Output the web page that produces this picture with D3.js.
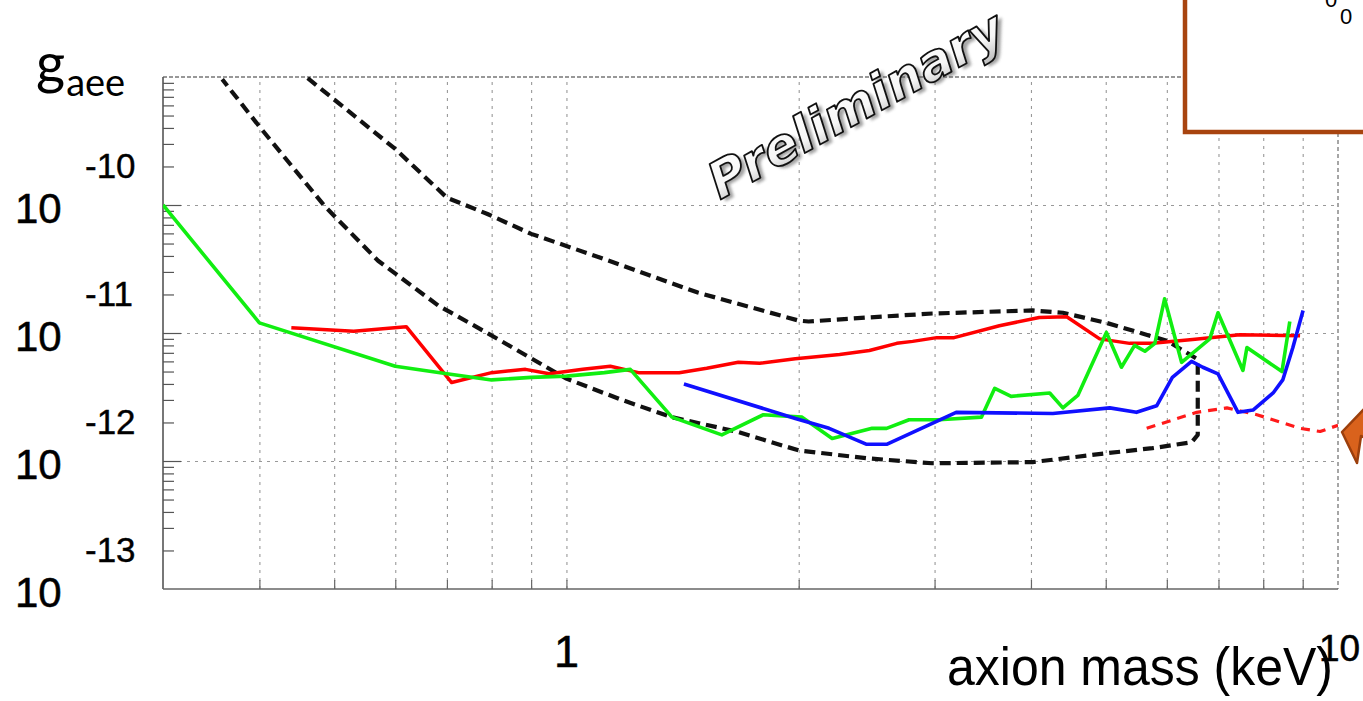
<!DOCTYPE html>
<html>
<head>
<meta charset="utf-8">
<script src="https://cdnjs.cloudflare.com/ajax/libs/d3/7.8.5/d3.min.js"></script>
<style>
  body { margin: 0; background: #fff; }
  svg { display: block; }
</style>
</head>
<body>
<div id="chart"></div>
<script>
// axion mass (keV) and coupling limit g_aee for each curve
var greenMass = [0.30, 0.40, 0.60, 0.70, 0.80, 0.90, 1.0, 1.12, 1.21, 1.37, 1.59, 1.80, 2.02, 2.21, 2.49, 2.60, 2.78, 3.04, 3.45, 3.59,
  3.77, 4.23, 4.40, 4.60, 5.01, 5.24, 5.45, 5.62, 5.79, 5.96, 6.27, 6.82, 6.99, 7.53, 7.62, 8.46, 8.66];
var greenLimit = [1.0e-10, 1.2e-11, 5.5e-12, 4.8e-12, 4.3e-12, 4.5e-12, 4.6e-12, 4.9e-12, 5.2e-12, 2.2e-12, 1.6e-12, 2.3e-12, 2.2e-12, 1.5e-12, 1.8e-12, 1.8e-12, 2.1e-12, 2.1e-12, 2.2e-12, 3.7e-12,
  3.2e-12, 3.4e-12, 2.6e-12, 3.25e-12, 1.01e-11, 5.4e-12, 8.0e-12, 7.2e-12, 8.3e-12, 1.85e-11, 5.9e-12, 9.0e-12, 1.44e-11, 5.1e-12, 7.7e-12, 5.0e-12, 1.23e-11];

var redMass = [0.44, 0.53, 0.62, 0.71, 0.80, 0.885, 0.95, 1.05, 1.14, 1.24, 1.40, 1.52, 1.67, 1.78, 1.98, 2.26, 2.47, 2.68, 2.81, 3.02,
  3.18, 3.64, 4.10, 4.45, 4.91, 5.37, 5.75, 6.48, 7.46, 8.93];
var redLimit = [1.1e-11, 1.03e-11, 1.12e-11, 4.1e-12, 4.9e-12, 5.2e-12, 4.8e-12, 5.2e-12, 5.5e-12, 4.9e-12, 4.9e-12, 5.3e-12, 5.9e-12, 5.8e-12, 6.3e-12, 6.8e-12, 7.3e-12, 8.3e-12, 8.6e-12, 9.2e-12,
  9.2e-12, 1.14e-11, 1.32e-11, 1.34e-11, 9.0e-12, 8.3e-12, 8.3e-12, 8.9e-12, 9.7e-12, 9.5e-12];

var blueMass = [1.42, 1.98, 2.19, 2.45, 2.60, 3.20, 4.27, 5.06, 5.48, 5.82, 6.10, 6.46, 6.68, 6.99, 7.42, 7.76, 8.24, 8.48, 8.74, 9.01];
var blueLimit = [4.0e-12, 2.15e-12, 1.8e-12, 1.35e-12, 1.35e-12, 2.4e-12, 2.35e-12, 2.6e-12, 2.4e-12, 2.7e-12, 4.5e-12, 6.0e-12, 5.4e-12, 4.8e-12, 2.4e-12, 2.5e-12, 3.4e-12, 4.3e-12, 7.7e-12, 1.5e-11];

var redDashMass = [5.65, 6.56, 7.18, 7.85, 8.93, 9.48, 10.0];
var redDashLimit = [1.8e-12, 2.4e-12, 2.6e-12, 2.3e-12, 1.8e-12, 1.7e-12, 1.9e-12];

// black dashed contour: upper branch left to right, then lower branch back
var blackMass = [0.462, 0.60, 0.70, 0.79, 0.90, 1.09, 1.48, 2.0, 2.06, 2.45, 2.98, 4.02, 4.40, 5.01, 6.0, 6.56, 6.58, 6.58,
  6.46, 5.75, 5.01, 4.02, 2.98, 2.45, 2.0, 1.66, 1.37, 1.18, 1.0, 0.792, 0.682, 0.570, 0.486, 0.40, 0.358];
var blackLimit = [9.8e-10, 2.74e-10, 1.14e-10, 8.5e-11, 5.95e-11, 4.0e-11, 2.07e-11, 1.25e-11, 1.23e-11, 1.32e-11, 1.42e-11, 1.5e-11, 1.44e-11, 1.2e-11, 8.7e-12, 6.3e-12, 5.8e-12, 1.6e-12,
  1.4e-12, 1.26e-12, 1.15e-12, 9.8e-13, 9.6e-13, 1.05e-12, 1.21e-12, 1.7e-12, 2.2e-12, 3.0e-12, 4.4e-12, 9.9e-12, 1.64e-11, 3.67e-11, 9.8e-11, 4.1e-10, 9.6e-10];

// ticks and labels
var xGrid = [0.4, 0.5, 0.6, 0.7, 0.8, 0.9, 1, 2, 3, 4, 5, 6, 7, 8, 9];
var xLabelValues = [1, 10];
var xLabels = ["1", "10"];
var yDecades = [1e-13, 1e-12, 1e-11, 1e-10, 1e-9];
var yLabelValues = [1e-10, 1e-11, 1e-12, 1e-13];
var yLabelExp = ["-10", "-11", "-12", "-13"];

var width = 1363, height = 701;
var margin = { top: 77, right: 25, bottom: 112, left: 163 };
var x0 = margin.left, x1 = width - margin.right;
var y0 = height - margin.bottom, y1 = margin.top;

var svg = d3.select("#chart").append("svg")
    .attr("width", width)
    .attr("height", height)
    .style("background", "#fff");

var x = d3.scaleLog().domain([0.3, 10]).range([x0, x1]);
var y = d3.scaleLog().domain([1e-13, 1e-9]).range([y0, y1]);

var defs = svg.append("defs");
defs.append("clipPath").attr("id", "plot")
  .append("rect").attr("x", x0).attr("y", y1).attr("width", x1 - x0).attr("height", y0 - y1);
var grad = defs.append("linearGradient").attr("id", "prelimFill")
    .attr("x1", 0).attr("y1", 0).attr("x2", 0).attr("y2", 1);
grad.append("stop").attr("offset", "0%").attr("stop-color", "#ffffff");
grad.append("stop").attr("offset", "60%").attr("stop-color", "#f6f6f6");
grad.append("stop").attr("offset", "100%").attr("stop-color", "#b8b8b8");
defs.append("filter").attr("id", "blur")
  .append("feGaussianBlur").attr("stdDeviation", 1.5);

// grid lines
var gridX = svg.append("g")
    .attr("transform", "translate(0," + y0 + ")")
    .call(d3.axisBottom(x).tickValues(xGrid).tickSize(-(y0 - y1)).tickFormat(""));
gridX.select(".domain").remove();
gridX.selectAll("line").attr("stroke", "#999").attr("stroke-width", 1.1).attr("stroke-dasharray", "3,5");

var gridY = svg.append("g")
    .attr("transform", "translate(" + x0 + ",0)")
    .call(d3.axisLeft(y).tickValues([1e-10, 1e-11, 1e-12]).tickSize(-(x1 - x0)).tickFormat(""));
gridY.select(".domain").remove();
gridY.selectAll("line").attr("stroke", "#999").attr("stroke-width", 1.1).attr("stroke-dasharray", "3,5");

// frame: top and right dashed, left and bottom solid
svg.append("line").attr("x1", x0).attr("x2", x1).attr("y1", y1).attr("y2", y1)
    .attr("stroke", "#777").attr("stroke-width", 1.3).attr("stroke-dasharray", "4,2");
svg.append("line").attr("x1", x1).attr("x2", x1).attr("y1", y1).attr("y2", y0)
    .attr("stroke", "#777").attr("stroke-width", 1.3).attr("stroke-dasharray", "4,3");
svg.append("line").attr("x1", x0).attr("x2", x0).attr("y1", y1).attr("y2", y0)
    .attr("stroke", "#555").attr("stroke-width", 1.6);
svg.append("line").attr("x1", x0).attr("x2", x1).attr("y1", y0).attr("y2", y0)
    .attr("stroke", "#666").attr("stroke-width", 1.5);

// y ticks (inward)
var yMinor = [];
for (var i = 0; i < yDecades.length - 1; i++) {
  for (var k = 2; k <= 9; k++) yMinor.push(yDecades[i] * k);
}
var yMinorAxis = svg.append("g").attr("transform", "translate(" + x0 + ",0)")
    .call(d3.axisLeft(y).tickValues(yMinor).tickSize(-11).tickFormat(""));
var yMajorAxis = svg.append("g").attr("transform", "translate(" + x0 + ",0)")
    .call(d3.axisLeft(y).tickValues(yDecades.slice(1, 4)).tickSize(-18).tickFormat(""));
[yMinorAxis, yMajorAxis].forEach(function(a) {
  a.select(".domain").remove();
  a.selectAll("line").attr("stroke", "#555").attr("stroke-width", 1.2);
});

// x ticks (inward)
var xTicks = svg.append("g").attr("transform", "translate(0," + y0 + ")")
    .call(d3.axisBottom(x).tickValues(xGrid).tickSize(-9).tickFormat(""));
xTicks.select(".domain").remove();
xTicks.selectAll("line").attr("stroke", "#666").attr("stroke-width", 1.2);

// curves
var line = d3.line().x(function(d) { return x(d[0]); }).y(function(d) { return y(d[1]); });
var curves = svg.append("g").attr("clip-path", "url(#plot)");

function drawCurve(mass, limit, color, w, dash) {
  curves.append("path")
    .datum(d3.zip(mass, limit))
    .attr("d", line)
    .attr("fill", "none")
    .attr("stroke", color)
    .attr("stroke-width", w)
    .attr("stroke-linejoin", "round")
    .attr("stroke-dasharray", dash);
}
drawCurve(blackMass, blackLimit, "#111", 4.2, "11,6");
drawCurve(redDashMass, redDashLimit, "#ff1a1a", 3.2, "9,7");
drawCurve(redMass, redLimit, "#ff0000", 3.5, null);
drawCurve(greenMass, greenLimit, "#11ee11", 3.6, null);
drawCurve(blueMass, blueLimit, "#1010ff", 3.6, null);

// y tick labels: 10 with exponent
var font = "'Liberation Sans', Arial, Helvetica, sans-serif";
yLabelValues.forEach(function(v, i) {
  svg.append("text").attr("x", 15).attr("y", y(v) + 18)
    .attr("font-family", font).attr("font-size", 42).attr("fill", "#000")
    .attr("stroke", "#000").attr("stroke-width", 0.5).text("10");
  svg.append("text").attr("x", 85).attr("y", y(v) - 27)
    .attr("font-family", font).attr("font-size", 35).attr("fill", "#000")
    .attr("stroke", "#000").attr("stroke-width", 0.4).text(yLabelExp[i]);
});

// x tick labels
xLabelValues.forEach(function(v, i) {
  var last = i === xLabelValues.length - 1;
  svg.append("text")
    .attr("x", last ? x(v) - 19 : x(v))
    .attr("y", last ? 661 : 667)
    .attr("text-anchor", last ? "start" : "middle")
    .attr("font-family", font).attr("font-size", last ? 37 : 45).attr("fill", "#000")
    .attr("stroke", "#000").attr("stroke-width", 0.5)
    .text(xLabels[i]);
});

// axis title
svg.append("text").attr("x", 947).attr("y", 685)
  .attr("font-family", font).attr("font-size", 54)
  .attr("textLength", 386).attr("lengthAdjust", "spacingAndGlyphs")
  .attr("fill", "#000").text("axion mass (keV)");

// y title g_aee
var gt = svg.append("text").attr("x", 36).attr("y", 83)
  .attr("font-family", "Lato, 'Open Sans', sans-serif").attr("fill", "#000");
gt.append("tspan").attr("font-size", 56).text("g");
gt.append("tspan").attr("font-size", 38).attr("dy", 13).attr("dx", 1).text("aee");

// Preliminary watermark
var pre = svg.append("g").attr("transform", "translate(720,200) rotate(-29)");
pre.append("text").attr("x", 3).attr("y", 4)
  .attr("font-family", "'DejaVu Sans', sans-serif").attr("font-weight", "bold").attr("font-style", "italic")
  .attr("font-size", 50).attr("textLength", 330).attr("lengthAdjust", "spacingAndGlyphs")
  .attr("fill", "#555").attr("opacity", 0.55).attr("filter", "url(#blur)").text("Preliminary");
pre.append("text").attr("x", 0).attr("y", 0)
  .attr("font-family", "'DejaVu Sans', sans-serif").attr("font-weight", "bold").attr("font-style", "italic")
  .attr("font-size", 50).attr("textLength", 330).attr("lengthAdjust", "spacingAndGlyphs")
  .attr("fill", "url(#prelimFill)").attr("stroke", "#111").attr("stroke-width", 1.8)
  .attr("stroke-linejoin", "round").text("Preliminary");

// legend box in the top right corner (mostly cut off)
svg.append("rect").attr("x", 1185).attr("y", -10).attr("width", 200).attr("height", 142)
  .attr("fill", "#fff").attr("stroke", "#a8440f").attr("stroke-width", 4.5);
svg.append("text").attr("x", 1325).attr("y", 7).attr("font-family", font).attr("font-size", 22).text("0");
svg.append("text").attr("x", 1340).attr("y", 24).attr("font-family", font).attr("font-size", 22).text("0");

// orange arrow at the right edge
svg.append("polygon")
  .attr("points", "1342,432 1366,407 1366,438 1361,436 1357,463")
  .attr("fill", "#d9621c").attr("stroke", "#9c3f0c").attr("stroke-width", 2.5)
  .attr("stroke-linejoin", "round");
</script>
</body>
</html>
